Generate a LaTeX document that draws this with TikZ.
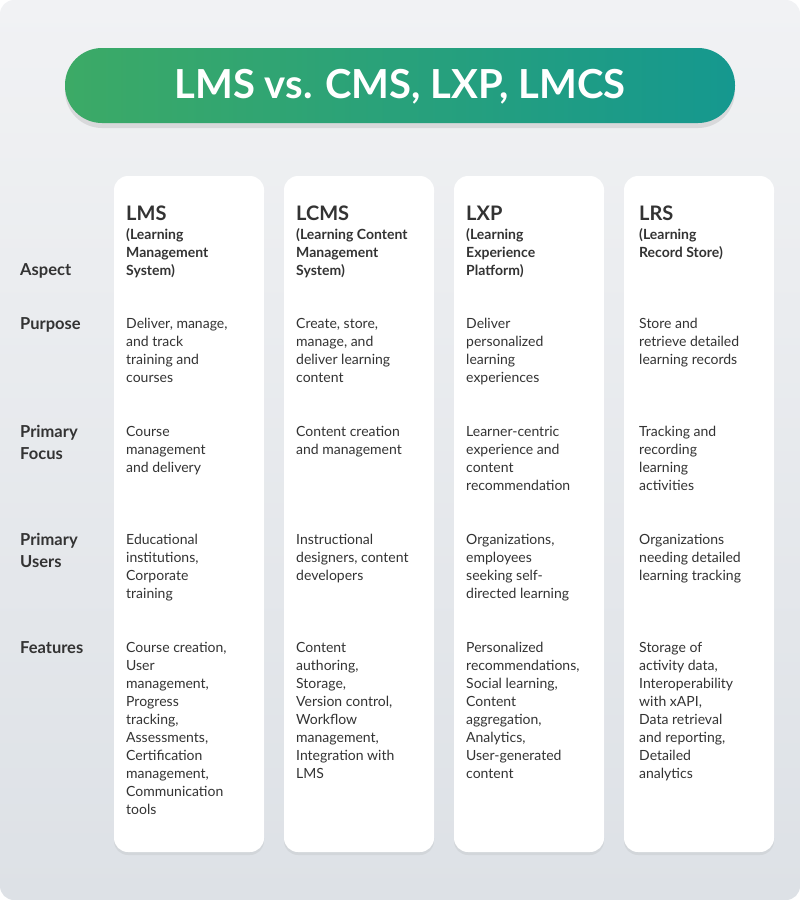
\documentclass[tikz,border=0pt]{standalone}
\usepackage{fontspec}
\setmainfont{Lato}
\usetikzlibrary{shadows,fadings}
\definecolor{bgtop}{HTML}{F1F2F4}
\definecolor{bgbot}{HTML}{DDE1E6}
\definecolor{greenL}{HTML}{3CAA66}
\definecolor{greenR}{HTML}{15988F}
\definecolor{ink}{HTML}{333333}
\tikzset{
  card/.style={fill=white, draw=none, rounded corners=14pt,
    drop shadow={shadow xshift=0pt, shadow yshift=-3pt, opacity=.12}},
  head/.style={anchor=north west, inner sep=0pt, text=ink,
    font=\fontsize{20}{24}\selectfont\bfseries},
  sub/.style={anchor=north west, inner sep=0pt, text=ink, align=left,
    font=\fontsize{14}{18}\selectfont\bfseries},
  cell/.style={anchor=north west, inner sep=0pt, text=ink, align=left,
    font=\fontsize{14}{18}\selectfont},
  rowlab/.style={anchor=north west, inner sep=0pt, text=ink, align=left,
    font=\fontsize{16.5}{22}\selectfont\bfseries}
}
\begin{document}
\begin{tikzpicture}[x=1pt,y=-1pt]
\useasboundingbox (0,0) rectangle (800,900);
% background
\shade[top color=bgtop, bottom color=bgbot, rounded corners=14pt] (0,0) rectangle (800,900);
% title
\shade[left color=greenL, right color=greenR, rounded corners=37pt,
  drop shadow={shadow xshift=0pt, shadow yshift=-5pt, opacity=.2}] (65,48) rectangle (735,123);
\node[text=white, font=\fontsize{40}{46}\selectfont\bfseries] (title) at (400,87) {LMS vs. CMS, LXP, LMCS};
% columns
\foreach \x/\n in {114/lms,284/lcms,454/lxp,624/lrs}
  \path[card] (\x,176) rectangle ++(150,676);
% row labels
\node[rowlab] (aspect) at (20,263) {Aspect};
\node[rowlab] (purpose) at (20,317) {Purpose};
\node[rowlab] (focus) at (20,425) {Primary\\Focus};
\node[rowlab] (users) at (20,533) {Primary\\Users};
\node[rowlab] (features) at (20,641) {Features};
% LMS
\node[head] (lmsH) at (126,206) {LMS};
\node[sub] (lmsS) at (126,228) {(Learning\\Management\\System)};
\node[cell] (lmsP) at (126,318) {Deliver, manage,\\and track\\training and\\courses};
\node[cell] (lmsF) at (126,426) {Course\\management\\and delivery};
\node[cell] (lmsU) at (126,534) {Educational\\institutions,\\Corporate\\training};
\node[cell] (lmsX) at (126,642) {Course creation,\\User\\management,\\Progress\\tracking,\\Assessments,\\Certification\\management,\\Communication\\tools};
% LCMS
\node[head] (lcmsH) at (296,206) {LCMS};
\node[sub] (lcmsS) at (296,228) {(Learning Content\\Management\\System)};
\node[cell] (lcmsP) at (296,318) {Create, store,\\manage, and\\deliver learning\\content};
\node[cell] (lcmsF) at (296,426) {Content creation\\and management};
\node[cell] (lcmsU) at (296,534) {Instructional\\designers, content\\developers};
\node[cell] (lcmsX) at (296,642) {Content\\authoring,\\Storage,\\Version control,\\Workflow\\management,\\Integration with\\LMS};
% LXP
\node[head] (lxpH) at (466,206) {LXP};
\node[sub] (lxpS) at (466,228) {(Learning\\Experience\\Platform)};
\node[cell] (lxpP) at (466,318) {Deliver\\personalized\\learning\\experiences};
\node[cell] (lxpF) at (466,426) {Learner-centric\\experience and\\content\\recommendation};
\node[cell] (lxpU) at (466,534) {Organizations,\\employees\\seeking self-\\directed learning};
\node[cell] (lxpX) at (466,642) {Personalized\\recommendations,\\Social learning,\\Content\\aggregation,\\Analytics,\\User-generated\\content};
% LRS
\node[head] (lrsH) at (639,206) {LRS};
\node[sub] (lrsS) at (639,228) {(Learning\\Record Store)};
\node[cell] (lrsP) at (639,318) {Store and\\retrieve detailed\\learning records};
\node[cell] (lrsF) at (639,426) {Tracking and\\recording\\learning\\activities};
\node[cell] (lrsU) at (639,534) {Organizations\\needing detailed\\learning tracking};
\node[cell] (lrsX) at (639,642) {Storage of\\activity data,\\Interoperability\\with xAPI,\\Data retrieval\\and reporting,\\Detailed\\analytics};
\end{tikzpicture}
\end{document}
